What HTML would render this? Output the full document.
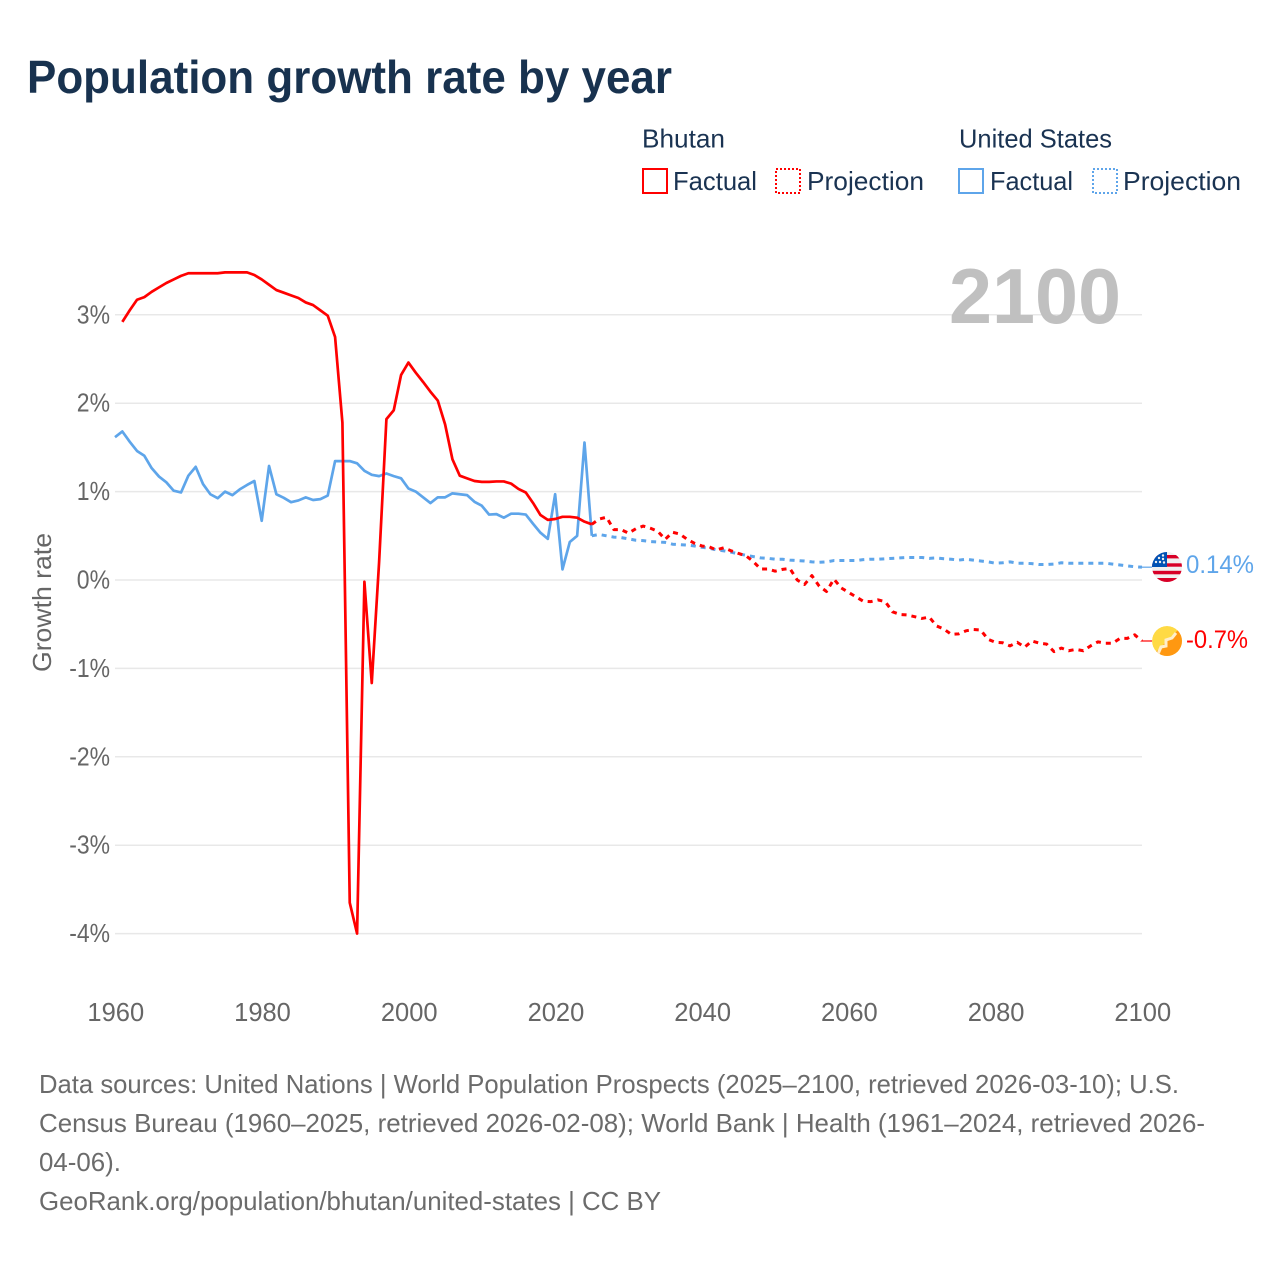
<!DOCTYPE html>
<html lang="en">
<head>
<meta charset="utf-8">
<title>Population growth rate by year</title>
<style>
html,body{margin:0;padding:0;background:#fff;}
svg{display:block;}
text{font-family:"Liberation Sans",sans-serif;}
.legend{font-size:26px;fill:#1a3352;}
.foot{font-size:26px;fill:#6b6b6b;}
.tick{font-size:25.5px;fill:#666;}
</style>
</head>
<body>
<svg id="chart" width="1280" height="1280" viewBox="0 0 1280 1280" xmlns="http://www.w3.org/2000/svg">
  <defs>
    <clipPath id="flag-us-clip"><circle cx="1167" cy="567" r="15"/></clipPath>
    <clipPath id="flag-bt-clip"><circle cx="1167" cy="641" r="15"/></clipPath>
  </defs>
  <rect x="0" y="0" width="1280" height="1280" fill="#fff"/>
  <text x="27" y="93" font-size="46" font-weight="700" fill="#18324f" textLength="645" lengthAdjust="spacingAndGlyphs">Population growth rate by year</text>

  <g>
    <text class="legend" x="642" y="147.5" textLength="83" lengthAdjust="spacingAndGlyphs">Bhutan</text>
    <rect x="643" y="169" width="24" height="24" fill="none" stroke="#ff0000" stroke-width="2"/>
    <text class="legend" x="673" y="190" textLength="84" lengthAdjust="spacingAndGlyphs">Factual</text>
    <rect x="776" y="169" width="24" height="24" fill="none" stroke="#ff0000" stroke-width="2" stroke-dasharray="2 2"/>
    <text class="legend" x="807" y="190" textLength="117" lengthAdjust="spacingAndGlyphs">Projection</text>
    <text class="legend" x="959" y="147.5" textLength="153" lengthAdjust="spacingAndGlyphs">United States</text>
    <rect x="959" y="169" width="24" height="24" fill="none" stroke="#5ea5ea" stroke-width="2"/>
    <text class="legend" x="990" y="190" textLength="83" lengthAdjust="spacingAndGlyphs">Factual</text>
    <rect x="1093" y="169" width="24" height="24" fill="none" stroke="#5ea5ea" stroke-width="2" stroke-dasharray="2 2"/>
    <text class="legend" x="1123" y="190" textLength="118" lengthAdjust="spacingAndGlyphs">Projection</text>
  </g>

  <g id="grid"></g>
  <g id="y-ticks"></g>
  <g id="x-ticks"></g>

  <text x="949" y="323" font-size="78" font-weight="700" fill="#c0c0c0" textLength="172" lengthAdjust="spacingAndGlyphs">2100</text>
  <text transform="translate(51,672) rotate(-90)" x="0" y="0" font-size="26" fill="#666" textLength="139" lengthAdjust="spacingAndGlyphs">Growth rate</text>

  <g id="series"></g>

  <g clip-path="url(#flag-us-clip)">
    <rect x="1152" y="552" width="30" height="30" fill="#f0f0f0"/>
    <rect x="1152" y="555" width="30" height="3.4" fill="#d80027"/>
    <rect x="1152" y="563.3" width="30" height="3.4" fill="#d80027"/>
    <rect x="1152" y="570.8" width="30" height="3.5" fill="#d80027"/>
    <rect x="1152" y="578" width="30" height="4" fill="#d80027"/>
    <rect x="1152" y="552" width="15" height="15" fill="#0052b4"/>
    <circle cx="1163" cy="555.5" r="1.2" fill="#f0f0f0"/><circle cx="1159" cy="558" r="1.2" fill="#f0f0f0"/><circle cx="1163" cy="559" r="1.2" fill="#f0f0f0"/><circle cx="1156" cy="562" r="1.2" fill="#f0f0f0"/><circle cx="1160" cy="562" r="1.2" fill="#f0f0f0"/><circle cx="1164" cy="562.5" r="1.2" fill="#f0f0f0"/>
  </g>
  <g clip-path="url(#flag-bt-clip)">
    <circle cx="1167" cy="641" r="15" fill="#ffda44"/>
    <polygon points="1185,623 1185,659 1149,659" fill="#ff9811"/>
    <path d="M1158,654 L1161,647 L1166,646 L1166,640 L1172,638 L1176,633" fill="none" stroke="#ffeecb" stroke-width="3"/>
  </g>
  <text x="1186" y="573" font-size="25" fill="#5ea5ea" textLength="68" lengthAdjust="spacingAndGlyphs">0.14%</text>
  <text x="1186" y="648" font-size="25" fill="#ff0000" textLength="62" lengthAdjust="spacingAndGlyphs">-0.7%</text>

  <g>
    <text class="foot" x="39" y="1093" textLength="1140" lengthAdjust="spacingAndGlyphs">Data sources: United Nations | World Population Prospects (2025–2100, retrieved 2026-03-10); U.S.</text>
    <text class="foot" x="39" y="1132" textLength="1166" lengthAdjust="spacingAndGlyphs">Census Bureau (1960–2025, retrieved 2026-02-08); World Bank | Health (1961–2024, retrieved 2026-</text>
    <text class="foot" x="39" y="1171" textLength="82" lengthAdjust="spacingAndGlyphs">04-06).</text>
    <text class="foot" x="39" y="1210" textLength="622" lengthAdjust="spacingAndGlyphs">GeoRank.org/population/bhutan/united-states | CC BY</text>
  </g>
</svg>
<script>
const yTickValues = [3, 2, 1, 0, -1, -2, -3, -4];
const yTickLabels = ["3%", "2%", "1%", "0%", "-1%", "-2%", "-3%", "-4%"];
const xTickYears = [1960, 1980, 2000, 2020, 2040, 2060, 2080, 2100];

const bhutanFactualStartYear = 1961;
const bhutanFactual = [
  2.92,3.05,3.17,3.20,3.26,3.31,3.36,3.40,3.44,3.47,
  3.47,3.47,3.47,3.47,3.48,3.48,3.48,3.48,3.45,3.40,
  3.34,3.28,3.25,3.22,3.19,3.14,3.11,3.05,2.99,2.75,
  1.78,-3.65,-4.00,-0.02,-1.165,0.20,1.82,1.92,2.32,2.46,
  2.345,2.24,2.13,2.03,1.76,1.365,1.18,1.15,1.12,1.11,
  1.11,1.115,1.115,1.09,1.03,0.99,0.87,0.735,0.68,0.69,
  0.715,0.715,0.705,0.66,0.63
];
const bhutanProjectionStartYear = 2025;
const bhutanProjection = [
  0.63,0.69,0.71,0.57,0.57,0.53,
  0.58,0.61,0.585,0.55,0.46,0.54,0.52,0.46,0.415,0.385,
  0.375,0.34,0.365,0.33,0.30,0.275,0.21,0.125,0.125,0.10,
  0.12,0.13,0,-0.05,0.05,-0.07,-0.13,0.01,-0.09,-0.14,
  -0.19,-0.24,-0.245,-0.225,-0.245,-0.36,-0.39,-0.395,-0.415,-0.435,
  -0.42,-0.52,-0.555,-0.615,-0.61,-0.575,-0.56,-0.565,-0.67,-0.705,
  -0.71,-0.745,-0.705,-0.76,-0.69,-0.715,-0.725,-0.81,-0.77,-0.80,
  -0.785,-0.80,-0.745,-0.70,-0.715,-0.715,-0.66,-0.66,-0.62,-0.69
];
const usFactualStartYear = 1960;
const usFactual = [
  1.615,1.68,1.565,1.46,1.405,1.265,1.17,1.105,1.01,0.99,
  1.18,1.28,1.085,0.97,0.925,1.0,0.96,1.025,1.075,1.12,
  0.67,1.29,0.97,0.93,0.88,0.90,0.935,0.905,0.915,0.955,
  1.345,1.345,1.345,1.32,1.235,1.19,1.175,1.205,1.175,1.15,
  1.035,1.0,0.935,0.87,0.935,0.935,0.98,0.97,0.96,0.885,
  0.84,0.74,0.745,0.705,0.75,0.75,0.74,0.635,0.535,0.465,
  0.97,0.12,0.43,0.50,1.555,0.50
];
const usProjectionStartYear = 2025;
const usProjection = [
  0.50,0.515,0.50,0.485,0.48,0.465,
  0.45,0.445,0.435,0.43,0.425,0.405,0.40,0.395,0.385,0.37,
  0.36,0.34,0.33,0.315,0.295,0.28,0.265,0.25,0.245,0.235,
  0.235,0.225,0.22,0.215,0.205,0.20,0.205,0.22,0.22,0.22,
  0.22,0.23,0.235,0.235,0.24,0.245,0.25,0.255,0.255,0.255,
  0.245,0.25,0.24,0.235,0.225,0.235,0.225,0.215,0.205,0.19,
  0.195,0.205,0.19,0.19,0.185,0.175,0.175,0.18,0.195,0.19,
  0.19,0.19,0.19,0.19,0.19,0.18,0.17,0.16,0.15,0.145
];

const SVG_NS = "http://www.w3.org/2000/svg";
const X_LEFT = 115, X_RIGHT = 1142, YEAR_MIN = 1960, YEAR_MAX = 2100;
const Y_ZERO = 580, PX_PER_PERCENT = 88.4;
const FLAG_EDGE_X = 1149;
const RED = "#ff0000", BLUE = "#5ea5ea";

function xScale(year) {
  return X_LEFT + (year - YEAR_MIN) * (X_RIGHT - X_LEFT) / (YEAR_MAX - YEAR_MIN);
}
function yScale(value) {
  return Y_ZERO - value * PX_PER_PERCENT;
}
function make(tag) {
  return document.createElementNS(SVG_NS, tag);
}
function pointsFor(values, startYear) {
  return values.map(function (v, i) {
    return xScale(startYear + i).toFixed(2) + "," + yScale(v).toFixed(2);
  }).join(" ");
}

const gridGroup = document.getElementById("grid");
const yTickGroup = document.getElementById("y-ticks");
const xTickGroup = document.getElementById("x-ticks");
const seriesGroup = document.getElementById("series");

yTickValues.forEach(function (v, i) {
  const line = make("line");
  
  
  line.setAttribute("x1", X_LEFT);
  line.setAttribute("x2", X_RIGHT);
  line.setAttribute("y1", yScale(v));
  line.setAttribute("y2", yScale(v));
  line.setAttribute("stroke", "#e8e8e8");
  line.setAttribute("stroke-width", "1.5");
  gridGroup.appendChild(line);

  const label = make("text");
  
  
  label.setAttribute("class", "tick");
  label.setAttribute("x", 110);
  label.setAttribute("y", yScale(v) + 8.5);
  label.setAttribute("text-anchor", "end");
  label.textContent = yTickLabels[i];
  yTickGroup.appendChild(label);
  const natural = label.getComputedTextLength();
  if (natural > 0) {
    label.setAttribute("textLength", (natural * 0.9).toFixed(1));
    label.setAttribute("lengthAdjust", "spacingAndGlyphs");
  }
});

xTickYears.forEach(function (year) {
  const label = make("text");
  
  
  label.setAttribute("class", "tick");
  label.setAttribute("x", xScale(year) + 0.8);
  label.setAttribute("y", 1021);
  label.setAttribute("text-anchor", "middle");
  label.textContent = String(year);
  xTickGroup.appendChild(label);
});

function drawLine(values, startYear, color, dashed, name) {
  const line = make("polyline");
  
  
  line.setAttribute("points", pointsFor(values, startYear));
  line.setAttribute("fill", "none");
  line.setAttribute("stroke", color);
  line.setAttribute("stroke-width", dashed ? "3" : "2.7");
  line.setAttribute("stroke-linejoin", "round");
  if (dashed) {
    line.setAttribute("stroke-dasharray", "5 5");
  }
  seriesGroup.appendChild(line);
}
function drawConnector(value, color, name) {
  const line = make("line");
  
  
  line.setAttribute("x1", xScale(YEAR_MAX));
  line.setAttribute("x2", FLAG_EDGE_X + 3);
  line.setAttribute("y1", yScale(value));
  line.setAttribute("y2", yScale(value));
  line.setAttribute("stroke", color);
  line.setAttribute("stroke-width", "1.2");
  seriesGroup.appendChild(line);
}

drawLine(usFactual, usFactualStartYear, BLUE, false, "line-us-factual");
drawLine(usProjection, usProjectionStartYear, BLUE, true, "line-us-projection");
drawLine(bhutanProjection, bhutanProjectionStartYear, RED, true, "line-bhutan-projection");
drawLine(bhutanFactual, bhutanFactualStartYear, RED, false, "line-bhutan-factual");
drawConnector(usProjection[usProjection.length - 1], BLUE, "connector-us");
drawConnector(bhutanProjection[bhutanProjection.length - 1], RED, "connector-bhutan");
</script>
</body>
</html>
